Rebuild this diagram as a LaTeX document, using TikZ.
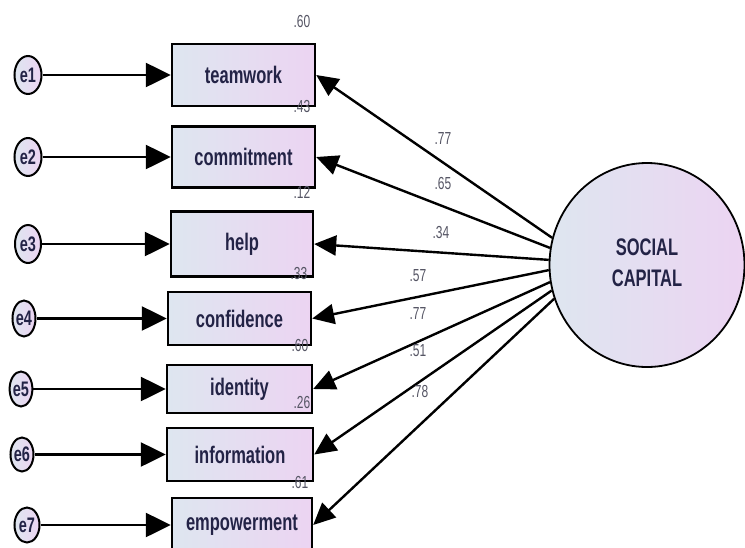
\documentclass[tikz,border=0pt]{standalone}
\usepackage{fontspec}
\setmainfont{Liberation Sans}
\usetikzlibrary{shapes.geometric,arrows.meta}
\definecolor{lblue}{RGB}{222,230,240}
\definecolor{lpink}{RGB}{236,212,242}
\definecolor{navy}{RGB}{35,35,70}
\definecolor{numc}{RGB}{85,85,100}
\newcommand{\st}[1]{\scalebox{1}[1.45]{#1}}
\begin{document}
\begin{tikzpicture}[x=1pt,y=-1pt,
 obs/.style={draw, line width=2.4pt, left color=lblue, right color=lpink, inner sep=0pt,
   font=\fontsize{16.5}{18}\selectfont\bfseries, text=navy},
 err/.style={ellipse, draw, line width=2pt, minimum width=24pt, minimum height=35pt, inner sep=0pt,
   left color=lblue, right color=lpink, font=\fontsize{14.5}{16}\selectfont\bfseries, text=navy},
 lat/.style={ellipse, draw, line width=1.8pt, minimum width=195pt, minimum height=204pt, inner sep=0pt,
   left color=lblue, right color=lpink, text=navy},
 arr/.style={line width=2.4pt, -{Triangle[length=25pt,width=24pt]}},
 parr/.style={line width=2.4pt, -{Triangle[length=22pt,width=20pt]}},
 num/.style={font=\fontsize{12}{14}\selectfont, text=numc, inner sep=0pt}
]
\useasboundingbox (0,0) rectangle (745,547);

% observed boxes
\node[obs, minimum width=143pt, minimum height=62pt] (b1) at (243.5,75) {\st{teamwork}};
\node[obs, minimum width=143pt, minimum height=61pt] (b2) at (243.5,157) {\st{commitment}};
\node[obs, minimum width=142pt, minimum height=65pt] (b3) at (242,244) {\st{help}};
\node[obs, minimum width=143pt, minimum height=53pt] (b4) at (239.5,318.5) {\st{confidence}};
\node[obs, minimum width=145pt, minimum height=48pt] (b5) at (239.5,389) {\st{identity}};
\node[obs, minimum width=146pt, minimum height=53pt] (b6) at (240,454.5) {\st{information}};
\node[obs, minimum width=140pt, minimum height=54pt] (b7) at (242,525) {\st{empowerment}};

% error terms
\node[err, minimum width=27pt, minimum height=38pt] (e1) at (28,75) {\st{e1}};
\node[err, minimum width=27pt, minimum height=38pt] (e2) at (28,157) {\st{e2}};
\node[err, minimum width=26pt, minimum height=38pt] (e3) at (28,244) {\st{e3}};
\node[err, minimum width=23pt, minimum height=36pt] (e4) at (24,318.5) {\st{e4}};
\node[err, minimum width=22pt, minimum height=35pt] (e5) at (21,389) {\st{e5}};
\node[err, minimum width=23pt, minimum height=34pt] (e6) at (22,454.5) {\st{e6}};
\node[err, minimum width=25pt, minimum height=35pt] (e7) at (27,525) {\st{e7}};

\foreach \i in {1,...,7}{\draw[arr] (e\i) -- (b\i);}

% latent
\node[lat] (sc) at (647,265) {\st{\fontsize{16.5}{21}\selectfont\bfseries
  \begin{tabular}{@{}c@{}}SOCIAL\\CAPITAL\end{tabular}}};

\draw[parr] (sc.164) -- (b1.east);
\draw[parr] (sc.170) -- (b2.east);
\draw[parr] (sc.177) -- (b3.east);
\draw[parr] (sc.183) -- (b4.east);
\draw[parr] (sc.190) -- (b5.east);
\draw[parr] (sc.195) -- (b6.east);
\draw[parr] (sc.200) -- (b7.east);

% loadings
\node[num] (l1) at (443,139) {\st{.77}};
\node[num] (l2) at (443,184) {\st{.65}};
\node[num] (l3) at (441,233) {\st{.34}};
\node[num] (l4) at (418,276) {\st{.57}};
\node[num] (l5) at (418,314) {\st{.77}};
\node[num] (l6) at (418,351) {\st{.51}};
\node[num] (l7) at (420,392) {\st{.78}};

% squared multiple correlations
\node[num] (r1) at (302,22) {\st{.60}};
\node[num] (r2) at (302,107) {\st{.43}};
\node[num] (r3) at (302,192) {\st{.12}};
\node[num] (r4) at (299,274) {\st{.33}};
\node[num] (r5) at (300,346) {\st{.60}};
\node[num] (r6) at (302,403) {\st{.26}};
\node[num] (r7) at (300,483) {\st{.61}};
\end{tikzpicture}
\end{document}
